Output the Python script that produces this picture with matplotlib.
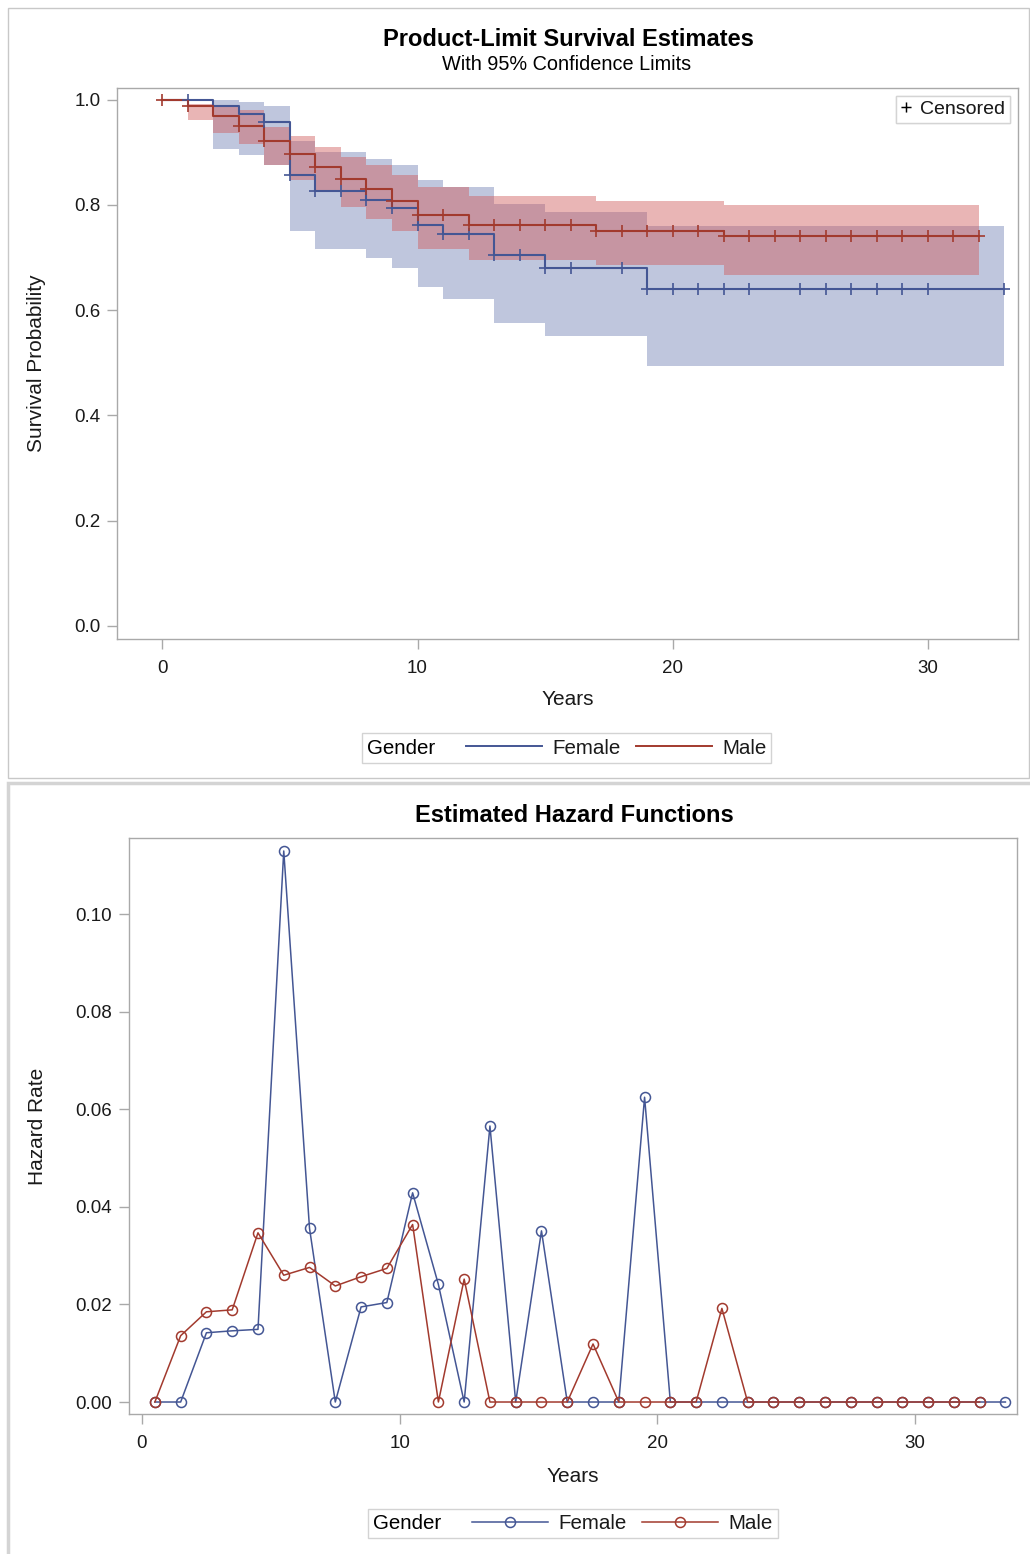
import numpy as np
import matplotlib
matplotlib.use("Agg")
import matplotlib.pyplot as plt
from matplotlib.lines import Line2D
from matplotlib.patches import Rectangle
from matplotlib.offsetbox import DrawingArea

plt.rcParams['font.family'] = ['Liberation Sans', 'DejaVu Sans']

# ---------------- data: Kaplan-Meier (product-limit) estimates ----------------
male_times = [0, 1, 2, 3, 4, 5, 6, 7, 8, 9, 10, 12, 17, 22, 32]
male_surv = [1.0, 0.988, 0.970, 0.950, 0.921, 0.896, 0.872, 0.849, 0.831,
             0.807, 0.780, 0.761, 0.751, 0.740, 0.740]
male_band_t = [1, 2, 3, 4, 5, 6, 7, 8, 9, 10, 12, 17, 22, 32]
male_lo = [0.961, 0.937, 0.916, 0.876, 0.848, 0.824, 0.796, 0.773, 0.751,
           0.716, 0.695, 0.686, 0.667, 0.667]
male_hi = [0.992, 0.989, 0.980, 0.949, 0.931, 0.910, 0.892, 0.875, 0.857,
           0.834, 0.817, 0.808, 0.799, 0.799]
male_cens = [0, 1, 3, 4, 5, 6, 7, 8, 9, 10, 11, 12, 13, 14, 15, 16, 17, 18,
             19, 20, 21, 22, 23, 24, 25, 26, 27, 28, 29, 30, 31, 32]

fem_times = [0, 2, 3, 4, 5, 6, 8, 9, 10, 11, 13, 15, 19, 33]
fem_surv = [1.0, 0.988, 0.972, 0.957, 0.857, 0.826, 0.810, 0.795, 0.761,
            0.745, 0.705, 0.681, 0.641, 0.641]
fem_band_t = [2, 3, 4, 5, 6, 8, 9, 10, 11, 13, 15, 19, 33]
fem_lo = [0.907, 0.895, 0.876, 0.751, 0.716, 0.699, 0.681, 0.643, 0.621,
          0.575, 0.551, 0.493, 0.493]
fem_hi = [0.999, 0.996, 0.989, 0.921, 0.900, 0.888, 0.876, 0.848, 0.835,
          0.802, 0.786, 0.759, 0.759]
fem_cens = [1, 4, 5, 6, 7, 8, 9, 10, 11, 12, 13, 14, 15, 16, 18, 19, 20, 21,
            22, 23, 25, 26, 27, 28, 29, 30, 33]

# ---------------- data: hazard functions ----------------
fem_haz_t = [0.5, 1.5, 2.5, 3.5, 4.5, 5.5, 6.5, 7.5, 8.5, 9.5, 10.5, 11.5,
             12.5, 13.5, 14.5, 15.5, 16.5, 17.5, 18.5, 19.5, 20.5, 21.5, 22.5,
             23.5, 24.5, 25.5, 26.5, 27.5, 28.5, 29.5, 30.5, 31.5, 32.5, 33.5]
fem_haz = [0, 0, 0.0142, 0.0146, 0.0149, 0.1130, 0.0356, 0, 0.0195, 0.0204,
           0.0429, 0.0241, 0, 0.0566, 0, 0.0351, 0, 0, 0, 0.0625, 0, 0, 0,
           0, 0, 0, 0, 0, 0, 0, 0, 0, 0, 0]
male_haz_t = [0.5, 1.5, 2.5, 3.5, 4.5, 5.5, 6.5, 7.5, 8.5, 9.5, 10.5, 11.5,
              12.5, 13.5, 14.5, 15.5, 16.5, 17.5, 18.5, 19.5, 20.5, 21.5, 22.5,
              23.5, 24.5, 25.5, 26.5, 27.5, 28.5, 29.5, 30.5, 31.5, 32.5]
male_haz = [0, 0.0136, 0.0185, 0.0189, 0.0347, 0.0260, 0.0276, 0.0238, 0.0257,
            0.0274, 0.0364, 0, 0.0252, 0, 0, 0, 0, 0.0119, 0, 0, 0, 0, 0.0192,
            0, 0, 0, 0, 0, 0, 0, 0, 0, 0]

groups = ['Female', 'Male']
surv_ticks = [0.0, 0.2, 0.4, 0.6, 0.8, 1.0]
haz_ticks = [0.00, 0.02, 0.04, 0.06, 0.08, 0.10]
year_ticks = [0, 10, 20, 30]

# ---------------- style ----------------
BLUE = '#445694'
RED = '#A23A2E'
BLUE_FILL = '#6F7EB3'
RED_FILL = '#D05B5B'
FRAME = '#A9A9A9'
TXT = '#1a1a1a'
W, H = 1030, 1554

fig = plt.figure(figsize=(W / 100, H / 100), dpi=100)


def fx(px):
    return px / W


def fy(py):
    return 1 - py / H


def style_axes(ax):
    for s in ax.spines.values():
        s.set_color(FRAME)
        s.set_linewidth(1.0)
    ax.tick_params(direction='out', length=7, width=1.0, color=FRAME,
                   labelsize=13.5, labelcolor=TXT, pad=5)


def step_value(times, vals, t):
    i = np.searchsorted(times, t, side='right') - 1
    return vals[i]


def title_left(leg):
    c = leg.get_children()[0]
    title = c.get_children()[0]
    hpack = c.get_children()[1]
    c._children = [hpack]
    hpack._children = [title, DrawingArea(0, 1)] + hpack.get_children()


# panel borders
fig.patches.append(Rectangle((fx(7.5), fy(778)), fx(1021), 770 / H,
                             transform=fig.transFigure, fill=False,
                             edgecolor='#C8C8C8', linewidth=1.0))
fig.patches.append(Rectangle((fx(8), fy(1560)), fx(1025), (1560 - 783) / H,
                             transform=fig.transFigure, fill=False,
                             edgecolor='#D4D4D4', linewidth=2.5))

# ---------------- survival panel ----------------
ax1 = fig.add_axes([fx(117), fy(639), fx(1018 - 117), (639 - 88) / H])
ax1.fill_between(fem_band_t, fem_lo, fem_hi, step='post', color=BLUE_FILL,
                 alpha=0.44, linewidth=0)
ax1.fill_between(male_band_t, male_lo, male_hi, step='post', color=RED_FILL,
                 alpha=0.45, linewidth=0)
ax1.step(fem_times, fem_surv, where='post', color=BLUE, lw=1.5)
ax1.step(male_times, male_surv, where='post', color=RED, lw=1.5)
ax1.plot(fem_cens, [step_value(fem_times, fem_surv, t) for t in fem_cens],
         linestyle='None', marker='+', ms=9, mew=1.2, color=BLUE)
ax1.plot(male_cens, [step_value(male_times, male_surv, t) for t in male_cens],
         linestyle='None', marker='+', ms=9, mew=1.2, color=RED)
ax1.set_xlim(-1.775, 33.53)
ax1.set_ylim(-0.0253, 1.0223)
ax1.set_xticks(year_ticks)
ax1.set_yticks(surv_ticks)
ax1.set_yticklabels([f'{v:.1f}' for v in surv_ticks])
style_axes(ax1)
ax1.tick_params(axis='x', pad=8)
ax1.set_xlabel('Years', fontsize=15, color=TXT)
ax1.xaxis.set_label_coords(0.5, -0.093)
ax1.set_ylabel('Survival Probability', fontsize=15, color=TXT)
ax1.yaxis.set_label_coords(-0.079, 0.5)

cens_leg = ax1.legend([Line2D([], [], linestyle='None', marker='+', color='black',
                              ms=7, mew=1.0)], ['Censored'],
                      loc='upper right', fontsize=14, frameon=True,
                      fancybox=False, edgecolor='#D0D0D0', handlelength=0.5,
                      handletextpad=0.5, borderaxespad=0.4, borderpad=0.25,
                      labelcolor=TXT)
cens_leg.get_frame().set_linewidth(1.0)
ax1.add_artist(cens_leg)

fig.text(fx(568), fy(39), 'Product-Limit Survival Estimates', ha='center',
         va='center', fontsize=17, fontweight='bold', color='black')
fig.text(fx(567), fy(64.5), 'With 95% Confidence Limits', ha='center',
         va='center', fontsize=14.3, color='black')

leg1 = fig.legend([Line2D([], [], color=BLUE, lw=1.4), Line2D([], [], color=RED, lw=1.4)],
                  groups, title='Gender', loc='center',
                  bbox_to_anchor=(fx(566.5), fy(748)), ncol=2, fontsize=14.8,
                  title_fontsize=14.8, frameon=True, fancybox=False,
                  edgecolor='#C8C8C8', handlelength=3.7, handletextpad=0.5,
                  columnspacing=0.75, borderpad=0.25, labelcolor=TXT)
leg1.get_frame().set_linewidth(1.0)
title_left(leg1)

# ---------------- hazard panel ----------------
ax2 = fig.add_axes([fx(128.7), fy(1414.3), fx(1017 - 128.7), (1414.3 - 838.3) / H])
ax2.plot(fem_haz_t, fem_haz, color=BLUE, lw=1.1, marker='o', ms=7.2,
         mfc='none', mec=BLUE, mew=1.1)
ax2.plot(male_haz_t, male_haz, color=RED, lw=1.1, marker='o', ms=7.2,
         mfc='none', mec=RED, mew=1.1)
ax2.set_xlim(-0.516, 33.95)
ax2.set_ylim(-0.00252, 0.1156)
ax2.set_xticks(year_ticks)
ax2.set_yticks(haz_ticks)
ax2.set_yticklabels([f'{v:.2f}' for v in haz_ticks])
style_axes(ax2)
ax2.tick_params(axis='x', pad=8)
ax2.set_xlabel('Years', fontsize=15, color=TXT)
ax2.xaxis.set_label_coords(0.5, -0.092)
ax2.set_ylabel('Hazard Rate', fontsize=15, color=TXT)
ax2.yaxis.set_label_coords(-0.092, 0.5)

fig.text(fx(574), fy(815), 'Estimated Hazard Functions', ha='center',
         va='center', fontsize=17, fontweight='bold', color='black')

leg2 = fig.legend([Line2D([], [], color=BLUE, lw=1.1, marker='o', ms=7.2, mfc='none', mew=1.1),
                   Line2D([], [], color=RED, lw=1.1, marker='o', ms=7.2, mfc='none', mew=1.1)],
                  groups, title='Gender', loc='center',
                  bbox_to_anchor=(fx(573), fy(1523.5)), ncol=2, fontsize=14.8,
                  title_fontsize=14.8, frameon=True, fancybox=False,
                  edgecolor='#C8C8C8', handlelength=3.7, handletextpad=0.5,
                  columnspacing=0.75, borderpad=0.25, numpoints=1, labelcolor=TXT)
leg2.get_frame().set_linewidth(1.0)
title_left(leg2)

fig.savefig('out.png', dpi=100)
